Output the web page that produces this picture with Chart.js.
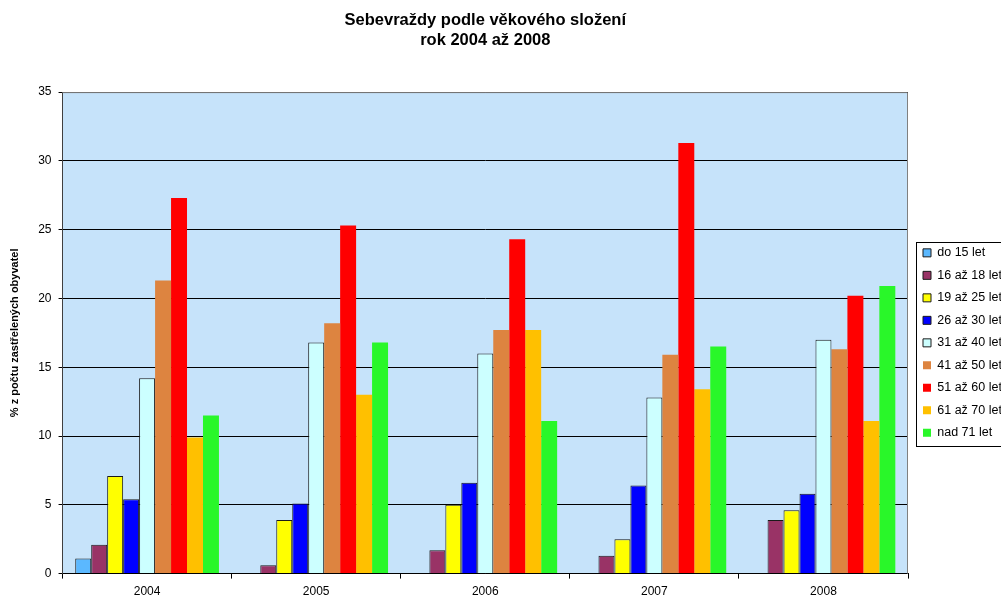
<!DOCTYPE html>
<html>
<head>
<meta charset="utf-8">
<script src="https://cdn.jsdelivr.net/npm/chart.js@4/dist/chart.umd.min.js"></script>
<style>
  body { margin: 0; background: #fff; }
</style>
</head>
<body>
<canvas id="chart" width="1001" height="600"></canvas>
<script>
// Data
const years = ['2004', '2005', '2006', '2007', '2008'];
const groups = ['do 15 let', '16 až 18 let', '19 až 25 let', '26 až 30 let', '31 až 40 let',
                '41 až 50 let', '51 až 60 let', '61 až 70 let', 'nad 71 let'];
const do15 = [1.1, 0, 0, 0, 0];
const g16_18 = [2.1, 0.6, 1.7, 1.3, 3.9];
const g19_25 = [7.1, 3.9, 5.0, 2.5, 4.6];
const g26_30 = [5.4, 5.1, 6.6, 6.4, 5.8];
const g31_40 = [14.2, 16.8, 16.0, 12.8, 17.0];
const g41_50 = [21.3, 18.2, 17.7, 15.9, 16.3];
const g51_60 = [27.3, 25.3, 24.3, 31.3, 20.2];
const g61_70 = [9.9, 13.0, 17.7, 13.4, 11.1];
const nad71 = [11.5, 16.8, 11.1, 16.5, 20.9];
const yTicks = [0, 5, 10, 15, 20, 25, 30, 35];

const seriesValues = [do15, g16_18, g19_25, g26_30, g31_40, g41_50, g51_60, g61_70, nad71];
const colors = ['#5BB8FF', '#993366', '#FFFF00', '#0000FF', '#CCFFFF',
                '#DD8440', '#FF0000', '#FFC000', '#29F729'];
const outlined = [true, true, true, true, true, false, false, false, false];

const datasets = groups.map((g, i) => ({
    label: g,
    data: seriesValues[i],
    backgroundColor: colors[i],
    borderColor: outlined[i] ? '#1a1a1a' : colors[i],
    borderWidth: outlined[i] ? 1 : 0,
    categoryPercentage: 0.85,
    barPercentage: 1
}));

// plot background, plot frame, legend frame (legend nudged a bit right/down like Excel)
const excelLook = {
    id: 'excelLook',
    afterLayout(chart) {
        const l = chart.legend;
        l.left += 5; l.right += 5;
        l.top += 10; l.bottom += 10;
    },
    beforeDraw(chart) {
        const a = chart.chartArea, c = chart.ctx;
        c.save();
        c.fillStyle = '#C6E3FA';
        c.fillRect(a.left, a.top, a.right - a.left, a.bottom - a.top);
        c.restore();
    },
    afterDraw(chart) {
        const a = chart.chartArea, c = chart.ctx, l = chart.legend;
        c.save();
        c.strokeStyle = '#808080';
        c.lineWidth = 1;
        c.beginPath();
        c.moveTo(a.left, a.top + 0.5);
        c.lineTo(a.right - 0.5, a.top + 0.5);
        c.lineTo(a.right - 0.5, a.bottom);
        c.stroke();
        // frame round the legend items
        const hb = l.legendHitBoxes;
        const firstC = hb[0].top + hb[0].height / 2;
        const lastC = hb[hb.length - 1].top + hb[hb.length - 1].height / 2;
        const x0 = Math.round(hb[0].left - 7) + 0.5;
        const y0 = Math.round(firstC - 10.5) + 0.5;
        const y1 = Math.round(lastC + 13.5) + 0.5;
        c.strokeStyle = '#000';
        c.strokeRect(x0, y0, 200, y1 - y0);
        c.restore();
    }
};

Chart.defaults.font.family = 'Arial, "Liberation Sans", sans-serif';
Chart.defaults.color = '#000';

const ctx = document.getElementById('chart').getContext('2d');
new Chart(ctx, {
    type: 'bar',
    data: { labels: years, datasets: datasets },
    options: {
        responsive: false,
        animation: false,
        layout: { padding: { top: 8, right: 0, left: 6, bottom: -5 } },
        scales: {
            x: {
                grid: {
                    offset: true,
                    drawOnChartArea: false,
                    drawTicks: true,
                    tickLength: 5,
                    color: '#000'
                },
                border: { color: '#000' },
                ticks: { font: { size: 12 }, padding: 6 }
            },
            y: {
                min: 0,
                max: 35,
                afterBuildTicks: axis => { axis.ticks = yTicks.map(v => ({ value: v })); },
                grid: { color: '#000', tickLength: 4, lineWidth: 1 },
                border: { color: '#404040' },
                ticks: { font: { size: 12 }, padding: 7 },
                title: {
                    display: true,
                    text: '% z počtu zastřelených obyvatel',
                    font: { size: 11, weight: 'bold' },
                    padding: { top: 2, bottom: 10 }
                }
            }
        },
        plugins: {
            title: {
                display: true,
                fullSize: false,
                text: ['Sebevraždy podle věkového složení', 'rok 2004 až 2008'],
                font: { size: 16.5, weight: 'bold' },
                lineHeight: 1.45,
                padding: { top: 3, bottom: 41.5 }
            },
            legend: {
                position: 'right',
                fullSize: false,
                maxWidth: 93,
                labels: {
                    boxWidth: 8,
                    boxHeight: 8,
                    padding: 10,
                    font: { size: 12.5 }
                }
            },
            tooltip: { enabled: false }
        }
    },
    plugins: [excelLook]
});
</script>
</body>
</html>
